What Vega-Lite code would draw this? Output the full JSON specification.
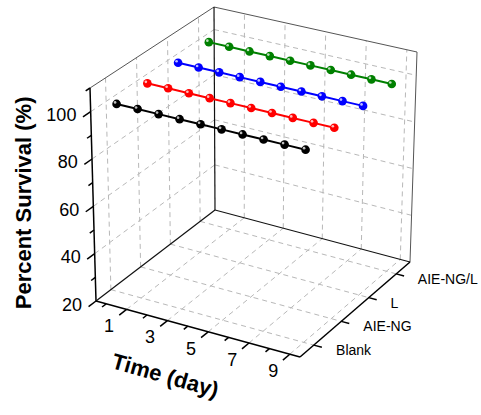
{
  "$schema": "https://vega.github.io/schema/vega-lite/v6.json",
  "width": 481,
  "height": 415,
  "padding": 0,
  "autosize": {"type": "fit", "contains": "padding"},
  "background": "white",
  "config": {"view": {"stroke": null}, "text": {"font": "Liberation Sans"}},
  "data": {"values": [
    {"kind":"series","group":"Blank","day":0,"pct":100},{"kind":"series","group":"Blank","day":1,"pct":100},{"kind":"series","group":"Blank","day":2,"pct":100},{"kind":"series","group":"Blank","day":3,"pct":100},{"kind":"series","group":"Blank","day":4,"pct":100},{"kind":"series","group":"Blank","day":5,"pct":100},{"kind":"series","group":"Blank","day":6,"pct":100},{"kind":"series","group":"Blank","day":7,"pct":100},{"kind":"series","group":"Blank","day":8,"pct":100},{"kind":"series","group":"Blank","day":9,"pct":100},
    {"kind":"series","group":"AIE-NG","day":0,"pct":100},{"kind":"series","group":"AIE-NG","day":1,"pct":100},{"kind":"series","group":"AIE-NG","day":2,"pct":100},{"kind":"series","group":"AIE-NG","day":3,"pct":100},{"kind":"series","group":"AIE-NG","day":4,"pct":100},{"kind":"series","group":"AIE-NG","day":5,"pct":100},{"kind":"series","group":"AIE-NG","day":6,"pct":100},{"kind":"series","group":"AIE-NG","day":7,"pct":100},{"kind":"series","group":"AIE-NG","day":8,"pct":100},{"kind":"series","group":"AIE-NG","day":9,"pct":100},
    {"kind":"series","group":"L","day":0,"pct":100},{"kind":"series","group":"L","day":1,"pct":100},{"kind":"series","group":"L","day":2,"pct":100},{"kind":"series","group":"L","day":3,"pct":100},{"kind":"series","group":"L","day":4,"pct":100},{"kind":"series","group":"L","day":5,"pct":100},{"kind":"series","group":"L","day":6,"pct":100},{"kind":"series","group":"L","day":7,"pct":100},{"kind":"series","group":"L","day":8,"pct":100},{"kind":"series","group":"L","day":9,"pct":100},
    {"kind":"series","group":"AIE-NG/L","day":0,"pct":100},{"kind":"series","group":"AIE-NG/L","day":1,"pct":100},{"kind":"series","group":"AIE-NG/L","day":2,"pct":100},{"kind":"series","group":"AIE-NG/L","day":3,"pct":100},{"kind":"series","group":"AIE-NG/L","day":4,"pct":100},{"kind":"series","group":"AIE-NG/L","day":5,"pct":100},{"kind":"series","group":"AIE-NG/L","day":6,"pct":100},{"kind":"series","group":"AIE-NG/L","day":7,"pct":100},{"kind":"series","group":"AIE-NG/L","day":8,"pct":100},{"kind":"series","group":"AIE-NG/L","day":9,"pct":100},
    {"kind":"grid","along":"pct","day":1,"depth":4},{"kind":"grid","along":"pct","day":3,"depth":4},{"kind":"grid","along":"pct","day":5,"depth":4},{"kind":"grid","along":"pct","day":7,"depth":4},{"kind":"grid","along":"pct","day":9,"depth":4},
    {"kind":"grid","along":"day","depth":4,"pct":40},{"kind":"grid","along":"day","depth":4,"pct":60},{"kind":"grid","along":"day","depth":4,"pct":80},{"kind":"grid","along":"day","depth":4,"pct":100},
    {"kind":"grid","along":"pct","day":-0.5,"group":"Blank"},{"kind":"grid","along":"pct","day":-0.5,"group":"AIE-NG"},{"kind":"grid","along":"pct","day":-0.5,"group":"L"},{"kind":"grid","along":"pct","day":-0.5,"group":"AIE-NG/L"},
    {"kind":"grid","along":"depth","day":-0.5,"pct":40},{"kind":"grid","along":"depth","day":-0.5,"pct":60},{"kind":"grid","along":"depth","day":-0.5,"pct":80},{"kind":"grid","along":"depth","day":-0.5,"pct":100},
    {"kind":"grid","along":"depth","day":1,"pct":20},{"kind":"grid","along":"depth","day":3,"pct":20},{"kind":"grid","along":"depth","day":5,"pct":20},{"kind":"grid","along":"depth","day":7,"pct":20},{"kind":"grid","along":"depth","day":9,"pct":20},
    {"kind":"grid","along":"day","group":"Blank","pct":20},{"kind":"grid","along":"day","group":"AIE-NG","pct":20},{"kind":"grid","along":"day","group":"L","pct":20},{"kind":"grid","along":"day","group":"AIE-NG/L","pct":20},
    {"kind":"frame","role":"axis","along":"day","depth":0,"pct":20},
    {"kind":"frame","role":"axis","along":"depth","day":9.5,"pct":20},
    {"kind":"frame","role":"axis","along":"pct","day":-0.5,"depth":0},
    {"kind":"frame","role":"floor","along":"depth","day":-0.5,"pct":20},
    {"kind":"frame","role":"floor","along":"day","depth":4,"pct":20},
    {"kind":"frame","role":"floor","along":"pct","day":-0.5,"depth":4},
    {"kind":"frame","role":"box","along":"pct","day":9.5,"depth":4},
    {"kind":"frame","role":"box","along":"depth","day":-0.5,"pct":110},
    {"kind":"frame","role":"box","along":"day","depth":4,"pct":110},
    {"kind":"tick","axis":"day","day":0},{"kind":"tick","axis":"day","day":1},{"kind":"tick","axis":"day","day":2},{"kind":"tick","axis":"day","day":3},{"kind":"tick","axis":"day","day":4},{"kind":"tick","axis":"day","day":5},{"kind":"tick","axis":"day","day":6},{"kind":"tick","axis":"day","day":7},{"kind":"tick","axis":"day","day":8},{"kind":"tick","axis":"day","day":9},
    {"kind":"tick","axis":"pct","pct":20},{"kind":"tick","axis":"pct","pct":30},{"kind":"tick","axis":"pct","pct":40},{"kind":"tick","axis":"pct","pct":50},{"kind":"tick","axis":"pct","pct":60},{"kind":"tick","axis":"pct","pct":70},{"kind":"tick","axis":"pct","pct":80},{"kind":"tick","axis":"pct","pct":90},{"kind":"tick","axis":"pct","pct":100},{"kind":"tick","axis":"pct","pct":110},
    {"kind":"tick","axis":"group","group":"Blank"},{"kind":"tick","axis":"group","group":"AIE-NG"},{"kind":"tick","axis":"group","group":"L"},{"kind":"tick","axis":"group","group":"AIE-NG/L"},
    {"kind":"title","axis":"day","text":"Time (day)"},
    {"kind":"title","axis":"pct","text":"Percent Survival (%)"}
  ]},
  "transform": [
    {"calculate": "datum.group ? indexof(['Blank','AIE-NG','L','AIE-NG/L'], datum.group) + 0.5 : datum.depth", "as": "gi"},
    {"calculate": "datum.kind=='tick' && datum.axis=='pct' ? -0.5 : (datum.kind=='tick' && datum.axis=='group' ? 9.5 : datum.day)", "as": "D"},
    {"calculate": "datum.kind=='tick' && datum.axis!='group' ? 0 : datum.gi", "as": "G"},
    {"calculate": "datum.kind=='tick' && datum.axis!='pct' ? 20 : datum.pct", "as": "P"},
    {"calculate": "datum.axis=='day' ? datum.day%2==1 : (datum.axis=='pct' ? datum.pct%20==0 : true)", "as": "major"},
    {"calculate": "datum.along=='day' ? -0.5 : datum.D", "as": "d1"},
    {"calculate": "datum.along=='day' ? 9.5 : (datum.kind=='tick' && datum.axis=='group' ? datum.D + 0.4 : datum.D)", "as": "d2"},
    {"calculate": "datum.along=='depth' ? 0 : datum.G", "as": "g1"},
    {"calculate": "datum.along=='depth' ? 4 : (datum.kind=='tick' && datum.axis!='group' ? datum.G - (datum.major ? 0.25 : 0.14) : datum.G)", "as": "g2"},
    {"calculate": "datum.along=='pct' ? 20 : datum.P", "as": "p1"},
    {"calculate": "datum.along=='pct' ? 110 : datum.P", "as": "p2"},
    {"calculate": "datum.kind=='title' ? (datum.axis=='day' ? 5.4 : -0.5) : (datum.axis=='group' ? datum.D + 1.1 : datum.D)", "as": "dl"},
    {"calculate": "datum.kind=='title' ? (datum.axis=='day' ? -1.8 : -2.22) : (datum.axis=='day' ? -0.6 : (datum.axis=='pct' ? -0.3 : datum.G))", "as": "gl"},
    {"calculate": "datum.kind=='title' ? (datum.axis=='day' ? 20 : 81.2) : datum.P", "as": "pl"},
    {"calculate": "(datum.d1+0.5)/10", "as": "u1"},
    {"calculate": "datum.g1/4", "as": "v1"},
    {"calculate": "(datum.p1-20)/90", "as": "w1"},
    {"calculate": "(datum.d2+0.5)/10", "as": "u2"},
    {"calculate": "datum.g2/4", "as": "v2"},
    {"calculate": "(datum.p2-20)/90", "as": "w2"},
    {"calculate": "(datum.dl+0.5)/10", "as": "ul"},
    {"calculate": "datum.gl/4", "as": "vl"},
    {"calculate": "(datum.pl-20)/90", "as": "wl"},
    {"calculate": "(1-datum.w1)*((1-datum.v1)*((1-datum.u1)*96+datum.u1*300)+datum.v1*((1-datum.u1)*215+datum.u1*410))+datum.w1*((1-datum.v1)*((1-datum.u1)*90+datum.u1*302)+datum.v1*((1-datum.u1)*214+datum.u1*417))", "as": "x1"},
    {"calculate": "(1-datum.w1)*((1-datum.v1)*((1-datum.u1)*301+datum.u1*357)+datum.v1*((1-datum.u1)*210+datum.u1*262))+datum.w1*((1-datum.v1)*((1-datum.u1)*88+datum.u1*139)+datum.v1*((1-datum.u1)*7+datum.u1*52))", "as": "y1"},
    {"calculate": "(1-datum.w2)*((1-datum.v2)*((1-datum.u2)*96+datum.u2*300)+datum.v2*((1-datum.u2)*215+datum.u2*410))+datum.w2*((1-datum.v2)*((1-datum.u2)*90+datum.u2*302)+datum.v2*((1-datum.u2)*214+datum.u2*417))", "as": "x2"},
    {"calculate": "(1-datum.w2)*((1-datum.v2)*((1-datum.u2)*301+datum.u2*357)+datum.v2*((1-datum.u2)*210+datum.u2*262))+datum.w2*((1-datum.v2)*((1-datum.u2)*88+datum.u2*139)+datum.v2*((1-datum.u2)*7+datum.u2*52))", "as": "y2"},
    {"calculate": "(1-datum.wl)*((1-datum.vl)*((1-datum.ul)*96+datum.ul*300)+datum.vl*((1-datum.ul)*215+datum.ul*410))+datum.wl*((1-datum.vl)*((1-datum.ul)*90+datum.ul*302)+datum.vl*((1-datum.ul)*214+datum.ul*417))", "as": "xl"},
    {"calculate": "(1-datum.wl)*((1-datum.vl)*((1-datum.ul)*301+datum.ul*357)+datum.vl*((1-datum.ul)*210+datum.ul*262))+datum.wl*((1-datum.vl)*((1-datum.ul)*88+datum.ul*139)+datum.vl*((1-datum.ul)*7+datum.ul*52))", "as": "yl"},
    {"calculate": "datum.kind=='title' ? datum.text : (datum.axis=='day' ? toString(datum.day) : (datum.axis=='pct' ? toString(datum.pct) : datum.group))", "as": "lab"}
  ],
  "layer": [
    {
      "transform": [{"filter": "datum.kind=='grid'"}],
      "mark": {"type": "rule", "color": "#b8b8b8", "strokeWidth": 1, "strokeDash": [5, 4]},
      "encoding": {
        "x": {"field": "x1", "type": "quantitative", "scale": {"domain": [0, 481], "nice": false, "zero": false}, "axis": null},
        "y": {"field": "y1", "type": "quantitative", "scale": {"domain": [0, 415], "reverse": true, "nice": false, "zero": false}, "axis": null},
        "x2": {"field": "x2"},
        "y2": {"field": "y2"}
      }
    },
    {
      "transform": [{"filter": "datum.kind=='frame' && datum.role=='box'"}],
      "mark": {"type": "rule", "color": "#555555", "strokeWidth": 1},
      "encoding": {
        "x": {"field": "x1", "type": "quantitative", "scale": {"domain": [0, 481], "nice": false, "zero": false}, "axis": null},
        "y": {"field": "y1", "type": "quantitative", "scale": {"domain": [0, 415], "reverse": true, "nice": false, "zero": false}, "axis": null},
        "x2": {"field": "x2"},
        "y2": {"field": "y2"}
      }
    },
    {
      "transform": [{"filter": "datum.kind=='frame' && datum.role=='floor'"}],
      "mark": {"type": "rule", "color": "#111111", "strokeWidth": 1.2},
      "encoding": {
        "x": {"field": "x1", "type": "quantitative", "scale": {"domain": [0, 481], "nice": false, "zero": false}, "axis": null},
        "y": {"field": "y1", "type": "quantitative", "scale": {"domain": [0, 415], "reverse": true, "nice": false, "zero": false}, "axis": null},
        "x2": {"field": "x2"},
        "y2": {"field": "y2"}
      }
    },
    {
      "transform": [{"filter": "datum.kind=='frame' && datum.role=='axis' || datum.kind=='tick'"}],
      "mark": {"type": "rule", "color": "#000000", "strokeWidth": 1.5},
      "encoding": {
        "x": {"field": "x1", "type": "quantitative", "scale": {"domain": [0, 481], "nice": false, "zero": false}, "axis": null},
        "y": {"field": "y1", "type": "quantitative", "scale": {"domain": [0, 415], "reverse": true, "nice": false, "zero": false}, "axis": null},
        "x2": {"field": "x2"},
        "y2": {"field": "y2"}
      }
    },
    {
      "transform": [{"filter": "datum.kind=='series'"}],
      "mark": {"type": "line", "strokeWidth": 2},
      "encoding": {
        "x": {"field": "x1", "type": "quantitative", "scale": {"domain": [0, 481], "nice": false, "zero": false}, "axis": null},
        "y": {"field": "y1", "type": "quantitative", "scale": {"domain": [0, 415], "reverse": true, "nice": false, "zero": false}, "axis": null},
        "detail": {"field": "group"},
        "order": {"field": "day", "type": "quantitative"},
        "color": {"field": "group", "type": "nominal", "scale": {"domain": ["Blank", "AIE-NG", "L", "AIE-NG/L"], "range": ["#000000", "#ff0000", "#0000ff", "#008000"]}, "legend": null}
      }
    },
    {
      "transform": [{"filter": "datum.kind=='series'"}],
      "mark": {"type": "point", "filled": true, "size": 75, "opacity": 1},
      "encoding": {
        "x": {"field": "x1", "type": "quantitative", "scale": {"domain": [0, 481], "nice": false, "zero": false}, "axis": null},
        "y": {"field": "y1", "type": "quantitative", "scale": {"domain": [0, 415], "reverse": true, "nice": false, "zero": false}, "axis": null},
        "color": {"field": "group", "type": "nominal", "scale": {"domain": ["Blank", "AIE-NG", "L", "AIE-NG/L"], "range": ["#000000", "#ff0000", "#0000ff", "#008000"]}, "legend": null}
      }
    },
    {
      "transform": [{"filter": "datum.kind=='series'"}],
      "mark": {"type": "point", "filled": true, "size": 7, "opacity": 0.75, "color": "#ffffff", "xOffset": -1.5, "yOffset": -1.5},
      "encoding": {
        "x": {"field": "x1", "type": "quantitative", "scale": {"domain": [0, 481], "nice": false, "zero": false}, "axis": null},
        "y": {"field": "y1", "type": "quantitative", "scale": {"domain": [0, 415], "reverse": true, "nice": false, "zero": false}, "axis": null}
      }
    },
    {
      "transform": [{"filter": "datum.kind=='tick' && datum.axis=='day' && datum.major"}],
      "mark": {"type": "text", "fontSize": 18, "align": "center", "baseline": "middle", "dy": 4, "color": "#000000"},
      "encoding": {
        "x": {"field": "xl", "type": "quantitative", "scale": {"domain": [0, 481], "nice": false, "zero": false}, "axis": null},
        "y": {"field": "yl", "type": "quantitative", "scale": {"domain": [0, 415], "reverse": true, "nice": false, "zero": false}, "axis": null},
        "text": {"field": "lab"}
      }
    },
    {
      "transform": [{"filter": "datum.kind=='tick' && datum.axis=='pct' && datum.major"}],
      "mark": {"type": "text", "fontSize": 18, "align": "right", "baseline": "middle", "dx": -5, "dy": -2, "color": "#000000"},
      "encoding": {
        "x": {"field": "xl", "type": "quantitative", "scale": {"domain": [0, 481], "nice": false, "zero": false}, "axis": null},
        "y": {"field": "yl", "type": "quantitative", "scale": {"domain": [0, 415], "reverse": true, "nice": false, "zero": false}, "axis": null},
        "text": {"field": "lab"}
      }
    },
    {
      "transform": [{"filter": "datum.kind=='tick' && datum.axis=='group'"}],
      "mark": {"type": "text", "fontSize": 14, "align": "left", "baseline": "middle", "color": "#000000"},
      "encoding": {
        "x": {"field": "xl", "type": "quantitative", "scale": {"domain": [0, 481], "nice": false, "zero": false}, "axis": null},
        "y": {"field": "yl", "type": "quantitative", "scale": {"domain": [0, 415], "reverse": true, "nice": false, "zero": false}, "axis": null},
        "text": {"field": "lab"}
      }
    },
    {
      "transform": [{"filter": "datum.kind=='title' && datum.axis=='day'"}],
      "mark": {"type": "text", "fontSize": 22, "fontWeight": "bold", "align": "center", "baseline": "middle", "angle": 16, "color": "#000000"},
      "encoding": {
        "x": {"field": "xl", "type": "quantitative", "scale": {"domain": [0, 481], "nice": false, "zero": false}, "axis": null},
        "y": {"field": "yl", "type": "quantitative", "scale": {"domain": [0, 415], "reverse": true, "nice": false, "zero": false}, "axis": null},
        "text": {"field": "lab"}
      }
    },
    {
      "transform": [{"filter": "datum.kind=='title' && datum.axis=='pct'"}],
      "mark": {"type": "text", "fontSize": 22, "fontWeight": "bold", "align": "center", "baseline": "middle", "angle": 270, "color": "#000000"},
      "encoding": {
        "x": {"field": "xl", "type": "quantitative", "scale": {"domain": [0, 481], "nice": false, "zero": false}, "axis": null},
        "y": {"field": "yl", "type": "quantitative", "scale": {"domain": [0, 415], "reverse": true, "nice": false, "zero": false}, "axis": null},
        "text": {"field": "lab"}
      }
    }
  ]
}
